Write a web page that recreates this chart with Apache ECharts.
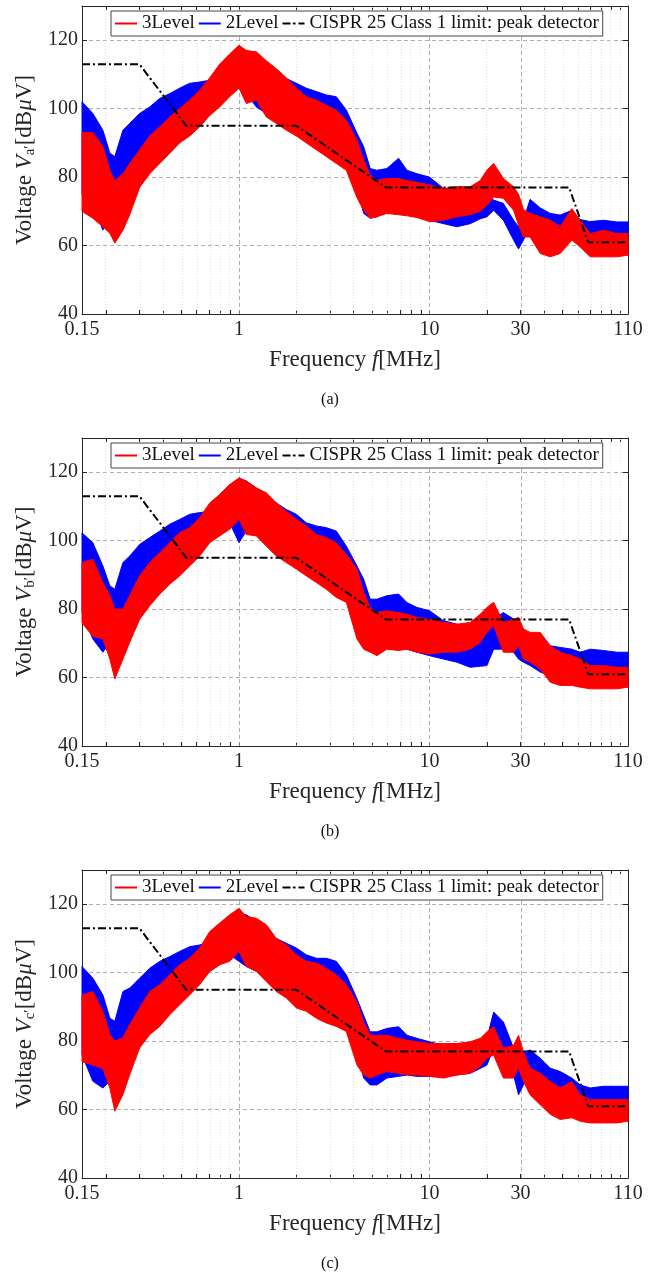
<!DOCTYPE html>
<html>
<head>
<meta charset="utf-8">
<script src="https://cdn.jsdelivr.net/npm/echarts@6.0.0/dist/echarts.min.js"></script>
<style>
html, body { margin: 0; background: #fff; }
#chart { width: 660px; height: 1273px; }
</style>
</head>
<body>
<div id="chart"></div>
<script>
// frequency grid [MHz] shared by all envelopes
var FREQ = [0.15, 0.171, 0.193, 0.21, 0.223, 0.246, 0.267, 0.301, 0.34, 0.384, 0.433, 0.488, 0.551, 0.622, 0.702,
    0.792, 0.893, 1.0, 1.093, 1.233, 1.391, 1.57, 1.771, 2.0, 2.256, 2.545, 2.872, 3.24, 3.657,
    4.16, 4.51, 4.88, 5.29, 5.97, 6.88, 7.61, 8.58, 10, 11.84, 13.9, 16.35, 18.45, 20, 21.7,
    24.4, 27.6, 29.3, 31.1, 33.7, 38.1, 43, 48.5, 55.8, 61.7, 69.7, 81.9, 96.1, 110];

// (a) upper / lower envelopes [dBuV]
var A3_HI = [93, 93, 89, 82, 79, 81, 84, 88, 92, 94.7, 97.6, 100, 102.5, 105.4, 109, 113, 116, 118.5, 117, 116.6, 114, 111.7, 109, 106, 103.5, 102.5, 101, 99.6, 96.7,
    90.8, 85, 80.6, 79, 79.6, 79.6, 79, 78.5, 77.7, 76.7, 77.2, 77.2, 79, 82, 84, 79.6, 77.2, 75, 70.5, 69.4, 68.4, 67.4, 65.5, 70.8, 67.4, 63.5, 64.5, 63.5, 63.5];
var A3_LO = [70, 68, 65.5, 63.6, 60.7, 64.5, 69, 77, 81, 84, 87, 90, 92, 94.7, 98, 100.5, 103.5, 106, 101.5, 102.5, 97.6, 95.7, 93.7, 92, 90, 88, 86, 84, 82,
    74, 70.3, 68, 68.4, 69.4, 69, 68.7, 68.2, 67, 67.4, 68.4, 69, 70, 71.8, 74.2, 73.8, 70.3, 66, 62.5, 62.5, 57.7, 56.7, 57.7, 61.6, 59.6, 56.7, 56.7, 56.7, 57.2];
var A2_HI = [102, 98.6, 93.7, 87, 86, 93.7, 95.7, 98.6, 100.5, 103, 104.4, 106, 107.4, 107.8, 108.3, 109.3, 110.3, 115.6, 117, 116, 113, 111, 108.8, 107.4, 106, 105, 104, 103.5, 99.6,
    92.8, 88.9, 82.5, 82, 82.5, 85.5, 82, 81, 80, 76.7, 76.2, 75.7, 75.4, 75.2, 73.3, 72.3, 67.4, 65.5, 67.4, 73.5, 71, 69.4, 68.9, 70.3, 67.6, 67, 67.4, 66.9, 66.9];
var A2_LO = [75, 72.3, 64.5, 71.3, 74.3, 78, 81, 84, 86, 88, 90, 92, 93.7, 96.7, 100, 102.5, 105.4, 106.4, 104.4, 100.5, 98.6, 97.6, 96.7, 94.7, 93.7, 92.8, 90.8, 89.4, 88,
    77.2, 69.4, 68, 68.4, 70.3, 70.3, 69.4, 68.4, 67.4, 66.4, 65.5, 66.4, 67.8, 68.4, 70.3, 67.4, 61.6, 59, 61.6, 65.5, 64.5, 64.5, 64.5, 63.5, 62.5, 62, 62, 62, 62.5];

// (b)
var B3_HI = [93.6, 94.6, 87.8, 84, 80, 80, 84, 89.7, 93.6, 96.5, 99.4, 102.3, 103.8, 106.7, 111, 113.5, 116.4, 118.3, 117.4, 115.4, 114, 111, 108.6, 106.2, 104.3, 101.8, 100.9, 99.4, 96,
    91.7, 84.9, 80.5, 79, 79.5, 79, 78.5, 77.6, 77, 76.1, 75.6, 76.1, 78.5, 80.5, 82, 76.1, 77, 77.6, 74.2, 73.2, 73.2, 69.3, 67.4, 66.4, 65.4, 63.5, 63.5, 63, 63];
var B3_LO = [76, 72, 71.3, 65.4, 59.6, 65.4, 70.3, 77, 81, 84.4, 87.3, 89.7, 92.6, 95.5, 99.4, 101.4, 103.3, 106.2, 101.8, 101.4, 98.4, 95.5, 93.6, 91.7, 89.7, 87.8, 85.8, 83.4, 82,
    71.3, 68.3, 67.4, 66.4, 68.3, 67.9, 68.3, 67.4, 66.9, 67.4, 67.4, 68.3, 70.3, 73.2, 75.1, 67.4, 67.4, 69.3, 65.4, 64.5, 62.5, 58.6, 57.7, 57.7, 57.2, 56.7, 56.7, 56.7, 57.2];
var B2_HI = [102.3, 99.4, 92.6, 86.8, 85.8, 93.6, 95.5, 98.9, 100.9, 102.8, 104.8, 106.2, 107.7, 108.2, 108.6, 110.1, 113, 118.3, 117.4, 115.4, 113.5, 111, 109.1, 107.7, 105.2, 104.3, 103.8, 102.8, 98.4,
    92.6, 88.7, 82.9, 82.9, 83.9, 84.4, 81.9, 80.5, 79.5, 76.6, 75.6, 74.7, 74.4, 74.2, 77.1, 79, 77.1, 76.6, 73.2, 72.2, 71, 69.3, 68.8, 68.3, 67.4, 68.3, 67.9, 67.4, 67.4];
var B2_LO = [79, 71.3, 67.4, 70.3, 75.1, 78, 81, 83.9, 86.3, 88.3, 90.2, 92.1, 94.1, 96.5, 99.9, 102.8, 105.2, 99.4, 102.8, 101.8, 99.4, 97.5, 96, 94.6, 93.6, 91.7, 90.2, 88.7, 86.8,
    75.1, 69.3, 67.9, 68.3, 69.3, 69.3, 68.3, 67.4, 66.4, 65.4, 64.5, 63, 63.3, 63.5, 68.3, 68.3, 67.4, 65.4, 64.5, 63.5, 61.6, 60.6, 61.1, 62.5, 62.5, 63, 63, 63, 63];

// (c)
var C3_HI = [93.5, 94.5, 88.7, 81.9, 80, 81, 84.8, 89.7, 94.5, 96.5, 99.4, 102.3, 104.2, 107.2, 112, 114.5, 116.9, 118.8, 116.4, 115.9, 114, 110, 108.1, 105.2, 103.3, 102.8, 101.3, 99.4, 96.5,
    91.4, 85.6, 81.7, 81.7, 81.7, 80.8, 80.3, 79.8, 79.3, 79.3, 79.3, 79.8, 80.8, 82.7, 84.2, 77.9, 78.8, 81.7, 76.9, 72.1, 70.6, 68.2, 66.3, 68.2, 64.3, 62.9, 62.9, 62.9, 62.9];
var C3_LO = [74, 73, 72, 66.3, 59.5, 64.4, 70.2, 78, 81.9, 84.3, 87.7, 90.6, 93.5, 96.5, 100.4, 102.3, 103.3, 106.2, 101.8, 100.4, 97.4, 94.5, 92.6, 89.7, 88.7, 86.7, 85.3, 84.3, 82.8,
    73, 70.1, 69.2, 70.1, 71.1, 70.6, 70.1, 70.1, 69.7, 69.2, 70.1, 70.6, 72.6, 75, 75.9, 69.2, 69.2, 72.1, 68.2, 64.3, 61.4, 58.6, 57.1, 57.6, 56.6, 56.1, 56.1, 56.1, 56.6];
var C2_HI = [101.8, 98.4, 93.5, 86.7, 85.8, 94.5, 95.5, 98.4, 101.3, 103.3, 104.7, 106.2, 107.6, 108.1, 109.1, 111, 113, 116.9, 116.9, 115, 112, 110, 108.6, 107.2, 105.2, 104.2, 104.2, 103.3, 99.4,
    92.4, 87.5, 82.7, 82.7, 83.7, 84.2, 81.7, 80.8, 79.8, 78.8, 78.8, 79.3, 80.3, 80.8, 88.5, 85.6, 77.9, 75.9, 76.9, 77.4, 75, 72.1, 71.1, 69.2, 67.2, 66.3, 66.8, 66.8, 66.8];
var C2_LO = [76, 68.3, 66.3, 68.3, 73, 77, 79.9, 83.8, 86.7, 88.7, 90.6, 92.6, 94.5, 96.9, 100.4, 102.3, 105.2, 103.3, 101.8, 100.4, 98.4, 96.5, 94.5, 93.5, 92.6, 90.6, 89.2, 87.7, 85.8,
    76.9, 69.2, 67.2, 67.2, 69.2, 69.7, 70.1, 69.7, 69.7, 69.7, 70.1, 70.6, 72, 73, 77.9, 75, 70.1, 64.3, 67.2, 70.1, 68.2, 64.3, 63.4, 64.3, 63.4, 62.9, 62.9, 62.9, 62.9];

// CISPR 25 class 1 peak limit
var LIMIT_F = [0.15, 0.3, 0.53, 2, 5.9, 54, 68, 110];
var LIMIT_DB = [113, 113, 95, 95, 77, 77, 61, 61];

var X_LABELS = [0.15, 1, 10, 30, 110];
var X_MAJOR = [1, 10, 30];
var X_MINOR = [0.2, 0.3, 0.4, 0.5, 0.6, 0.7, 0.8, 0.9, 2, 3, 4, 5, 6, 7, 8, 9, 20, 40, 50, 60, 70, 80, 90, 100];
var NAMES = ['3Level', '2Level', 'CISPR 25 Class 1 limit: peak detector'];
var CAPTIONS = ['(a)', '(b)', '(c)'];
var SUBS = ['a\u2032', 'b\u2032', 'c\u2032'];

var panels = [
    { hi3: A3_HI, lo3: A3_LO, hi2: A2_HI, lo2: A2_LO },
    { hi3: B3_HI, lo3: B3_LO, hi2: B2_HI, lo2: B2_LO },
    { hi3: C3_HI, lo3: C3_LO, hi2: C2_HI, lo2: C2_LO }
];

var FONT = '"Liberation Serif", "Times New Roman", serif',
    GRID_TOP = [6, 438, 870],
    GRID_H = 308,
    AXIS_COLOR = '#262626',
    lg = function(f) { return Math.log10(f); },
    XMIN = lg(0.15),
    XMAX = lg(110);

var band = function(name, color, idx, hi, lo) {
    return {
        type: 'custom',
        name: name,
        xAxisIndex: 2 * idx,
        yAxisIndex: 2 * idx,
        itemStyle: { color: color },
        silent: true,
        z: 2,
        data: FREQ.map(function(f, i) { return [lg(f), hi[i], lo[i]]; }),
        encode: { x: 0, y: [1, 2] },
        renderItem: function(params, api) {
            if (params.dataIndex !== 0) return;
            var pts = [], i;
            for (i = 0; i < FREQ.length; i++) pts.push(api.coord([lg(FREQ[i]), hi[i]]));
            for (i = FREQ.length - 1; i >= 0; i--) pts.push(api.coord([lg(FREQ[i]), lo[i]]));
            return {
                type: 'polygon',
                shape: { points: pts },
                style: { fill: color, stroke: color, lineWidth: 1 }
            };
        }
    };
};

var gridLines = function() {
    var major = { color: '#9a9a9a', width: 0.8, type: [4, 3] },
        minor = { color: '#d6d6d6', width: 0.8, type: [1, 2] };
    return X_MAJOR.map(function(f) { return { xAxis: lg(f), lineStyle: major }; })
        .concat(X_MINOR.map(function(f) { return { xAxis: lg(f), lineStyle: minor }; }));
};

var grids = [], xAxes = [], yAxes = [], legends = [], titles = [];

// empty line series first, only so the legend shows line samples
var series = [
    { type: 'line', name: NAMES[0], data: [], symbol: 'none', itemStyle: { color: '#ff0000' }, lineStyle: { color: '#ff0000', width: 1.2 } },
    { type: 'line', name: NAMES[1], data: [], symbol: 'none', itemStyle: { color: '#0000ff' }, lineStyle: { color: '#0000ff', width: 1.2 } }
];

panels.forEach(function(p, i) {
    var top = GRID_TOP[i];

    grids.push({ left: 82, width: 546, top: top, height: GRID_H });

    xAxes.push({
        type: 'value', gridIndex: i, min: XMIN, max: XMAX,
        axisLine: { onZero: false, lineStyle: { color: AXIS_COLOR, width: 1 } },
        axisTick: { inside: true, length: 4, customValues: X_LABELS.concat(X_MINOR).map(lg), lineStyle: { color: AXIS_COLOR } },
        axisLabel: {
            customValues: X_LABELS.map(lg),
            formatter: function(v) { return String(Math.round(Math.pow(10, v) * 100) / 100); },
            color: '#262626', fontFamily: FONT, fontSize: 20, margin: 6
        },
        splitLine: { show: false },
        name: '{n|Frequency }{i|f}{n|[MHz]}',
        nameLocation: 'middle',
        nameGap: 34,
        nameTextStyle: {
            rich: {
                n: { fontFamily: FONT, fontSize: 23, color: '#262626' },
                i: { fontFamily: FONT, fontSize: 23, fontStyle: 'italic', color: '#262626' }
            }
        }
    });
    xAxes.push({
        type: 'value', gridIndex: i, position: 'top', min: XMIN, max: XMAX,
        axisLine: { onZero: false, lineStyle: { color: AXIS_COLOR, width: 1 } },
        axisTick: { inside: true, length: 4, customValues: X_LABELS.concat(X_MINOR).map(lg), lineStyle: { color: AXIS_COLOR } },
        axisLabel: { show: false },
        splitLine: { show: false }
    });

    yAxes.push({
        type: 'value', gridIndex: i, min: 40, max: 130, interval: 20,
        axisLine: { show: true, onZero: false, lineStyle: { color: AXIS_COLOR, width: 1 } },
        axisTick: { inside: true, length: 5, lineStyle: { color: AXIS_COLOR } },
        axisLabel: {
            formatter: function(v) { return v > 120 ? '' : String(v); },
            color: '#262626', fontFamily: FONT, fontSize: 20, margin: 4
        },
        splitLine: { lineStyle: { color: '#9a9a9a', width: 0.8, type: [4, 3] } },
        name: '{n|Voltage }{i|V}{s|' + SUBS[i] + '}{n|[dB}{i|\u03bc}{n|V]}',
        nameLocation: 'middle',
        nameGap: 43,
        nameTextStyle: {
            rich: {
                n: { fontFamily: FONT, fontSize: 23, color: '#262626' },
                i: { fontFamily: FONT, fontSize: 23, fontStyle: 'italic', color: '#262626' },
                s: { fontFamily: FONT, fontSize: 15, color: '#262626', padding: [9, 0, 0, 0] }
            }
        }
    });
    yAxes.push({
        type: 'value', gridIndex: i, position: 'right', min: 40, max: 130, interval: 20,
        axisLine: { show: true, onZero: false, lineStyle: { color: AXIS_COLOR, width: 1 } },
        axisTick: { inside: true, length: 5, lineStyle: { color: AXIS_COLOR } },
        axisLabel: { show: false },
        splitLine: { show: false }
    });

    series.push(band(NAMES[1], '#0000ff', i, p.hi2, p.lo2));
    series.push(band(NAMES[0], '#ff0000', i, p.hi3, p.lo3));
    series.push({
        type: 'line',
        name: NAMES[2],
        xAxisIndex: 2 * i,
        yAxisIndex: 2 * i,
        data: LIMIT_F.map(function(f, k) { return [lg(f), LIMIT_DB[k]]; }),
        symbol: 'none',
        z: 4,
        silent: true,
        itemStyle: { color: '#000' },
        lineStyle: { color: '#000', width: 2, type: [8, 3, 2, 3] },
        markLine: {
            z: 1,
            silent: true,
            symbol: ['none', 'none'],
            label: { show: false },
            animation: false,
            data: gridLines()
        }
    });

    legends.push({
        left: 111, top: top + 5,
        padding: [3, 4, 3, 3],
        itemGap: 3,
        itemWidth: 22,
        itemHeight: 2,
        backgroundColor: '#fff',
        borderColor: '#444',
        borderWidth: 1,
        borderRadius: 0,
        selectedMode: false,
        textStyle: { fontFamily: FONT, fontSize: 19, color: '#111' },
        data: NAMES
    });

    titles.push({
        text: CAPTIONS[i],
        left: 'center',
        top: top + GRID_H + 73,
        textStyle: { fontFamily: FONT, fontSize: 16, fontWeight: 'normal', color: '#111' }
    });
});

var chart = echarts.init(document.getElementById('chart'), null, { renderer: 'canvas' });
chart.setOption({
    animation: false,
    backgroundColor: '#fff',
    title: titles,
    legend: legends,
    grid: grids,
    xAxis: xAxes,
    yAxis: yAxes,
    series: series
});
</script>
</body>
</html>
